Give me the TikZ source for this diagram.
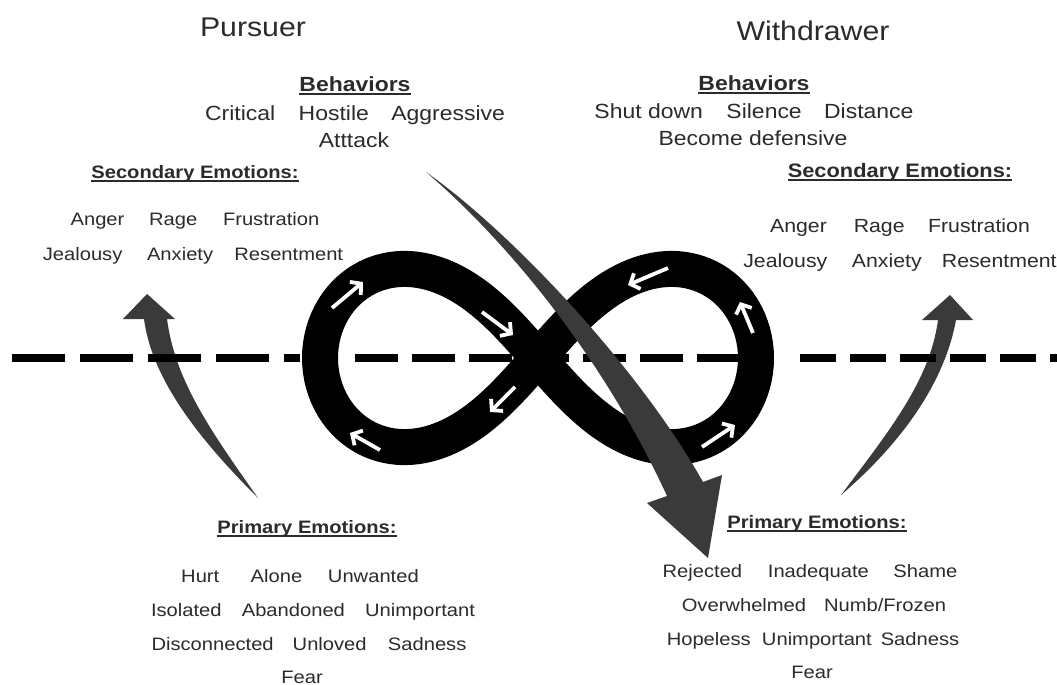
\documentclass[tikz,border=0pt]{standalone}
\usepackage{fontspec}
\setmainfont{Liberation Sans}
\usetikzlibrary{arrows.meta}
\definecolor{txt}{HTML}{2B2B2B}
\definecolor{garr}{HTML}{3A3A3A}
\newcommand\ulhead[1]{\setbox0\hbox{#1}\rlap{\rule[-3.5pt]{\wd0}{1.6pt}}\box0}
\begin{document}
\begin{tikzpicture}[x=1pt,y=-1pt,
  lbl/.style={text=txt, inner sep=0pt, anchor=base, xscale=1.12},
  title/.style={lbl, font=\fontsize{27}{30}\selectfont},
  head/.style={lbl, font=\bfseries\fontsize{18}{20}\selectfont},
  rhead/.style={lbl, font=\bfseries\fontsize{19.5}{21}\selectfont},
  bhead/.style={lbl, font=\bfseries\fontsize{20.5}{22}\selectfont},
  item/.style={lbl, font=\fontsize{18}{20}\selectfont},
  ritem/.style={lbl, font=\fontsize{19}{21}\selectfont},
  bitem/.style={lbl, font=\fontsize{20.5}{22}\selectfont},
  dashln/.style={line width=8pt},
  band/.style={line width=36pt, line join=round},
  flow/.style={white, line width=3.8pt, -{Straight Barb[length=7.5pt,width=17pt]}},
  garrow/.style={fill=garr}]
\useasboundingbox[fill=white] (0,0) rectangle (1057,685);

% small gray arrows
\fill[garrow] (258,498) .. controls (200,440) and (152,380) .. (144,319) -- (123,319) -- (147,294) -- (175,319) -- (167,319) .. controls (175,380) and (210,430) .. (258,498) -- cycle;
\fill[garrow] (841,495) .. controls (890,430) and (930,380) .. (938,320) -- (922,320) -- (950,295) -- (973,320) -- (956,320) .. controls (945,380) and (905,440) .. (841,495) -- cycle;

% dashed line
\coordinate (dA1) at (12,358); \coordinate (dA2) at (300,358);
\coordinate (dB1) at (355,358); \coordinate (dB2) at (745,358);
\coordinate (dC1) at (800,358); \coordinate (dC2) at (1057,358);
\draw[dashln, dash pattern=on 53pt off 15pt] (dA1) -- (dA2);
\draw[dashln, dash pattern=on 43pt off 14pt] (dB1) -- (dB2);
\draw[dashln, dash pattern=on 36pt off 14pt] (dC1) -- (dC2);

% infinity band
\draw[band] plot[domain=0:360, samples=241]
  ({538+218*cos(\x)/(1+sin(\x)*sin(\x))}, {358+252*sin(\x)*cos(\x)/(1+sin(\x)*sin(\x))}) -- cycle;

% white flow arrows
\draw[flow] (332,308) -- (363,282);
\draw[flow] (482,312) -- (513,335);
\draw[flow] (515,387) -- (490,412);
\draw[flow] (380,450) -- (350,433);
\draw[flow] (668,268) -- (628,285);
\draw[flow] (753,333) -- (740,302);
\draw[flow] (702,447) -- (735,425);

% big gray arrow
\fill[garrow] (426,172) .. controls (500,235) and (600,350) .. (667,496) -- (647,503) -- (708,558) -- (722,475) -- (703,482) .. controls (640,370) and (515,235) .. (426,172) -- cycle;

% texts
\node[title] (pur) at (253,37) {Pursuer};
\node[title] (wd) at (813,41) {Withdrawer};

\node[bhead] (bl) at (355,91) {\ulhead{Behaviors}};
\node[bitem] (bl1) at (355,120) {Critical\hspace{21pt}Hostile\hspace{20pt}Aggressive};
\node[bitem] (bl2) at (354,147) {Atttack};
\node[bhead] (br) at (754,90) {\ulhead{Behaviors}};
\node[bitem] (br1) at (754,118) {Shut down\hspace{21pt}Silence\hspace{20pt}Distance};
\node[bitem] (br2) at (753,145) {Become defensive};

\node[head] (sl) at (195,178) {\ulhead{Secondary Emotions:}};
\node[item] (sl1) at (195,225) {Anger\hspace{22pt}Rage\hspace{23pt}Frustration};
\node[item] (sl2) at (193,260) {Jealousy\hspace{22pt}Anxiety\hspace{19pt}Resentment};
\node[rhead] (sr) at (900,177) {\ulhead{Secondary Emotions:}};
\node[ritem] (sr1) at (900,232) {Anger\hspace{24pt}Rage\hspace{21pt}Frustration};
\node[ritem] (sr2) at (900,267) {Jealousy\hspace{22pt}Anxiety\hspace{18pt}Resentment};

\node[head] (pl) at (307,533) {\ulhead{Primary Emotions:}};
\node[item] (pl1) at (300,582) {Hurt\hspace{28pt}Alone\hspace{23pt}Unwanted};
\node[item] (pl2) at (313,616) {Isolated\hspace{18pt}Abandoned\hspace{18pt}Unimportant};
\node[item] (pl3) at (309,650) {Disconnected\hspace{17pt}Unloved\hspace{19pt}Sadness};
\node[item] (pl4) at (302,683) {Fear};
\node[head] (pr) at (817,528) {\ulhead{Primary Emotions:}};
\node[item] (pr1) at (810,577) {Rejected\hspace{23pt}Inadequate\hspace{22pt}Shame};
\node[item] (pr2) at (814,611) {Overwhelmed\hspace{16pt}Numb/Frozen};
\node[item] (pr3) at (813,645) {Hopeless\hspace{10pt}Unimportant\hspace{8pt}Sadness};
\node[item] (pr4) at (812,678) {Fear};
\end{tikzpicture}
\end{document}
